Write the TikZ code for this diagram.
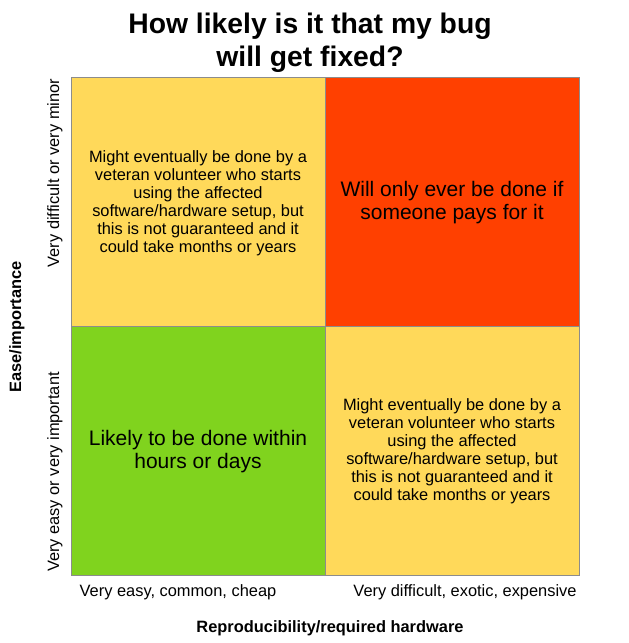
\documentclass[tikz,border=0pt]{standalone}
\usepackage{fontspec}
\setmainfont{Liberation Sans}
\usepackage{tikz}
\usetikzlibrary{positioning}

\definecolor{cellyellow}{HTML}{FFD95A}
\definecolor{cellred}{HTML}{FF4000}
\definecolor{cellgreen}{HTML}{80D31E}
\definecolor{cellline}{HTML}{8C8C8C}

\begin{document}
\begin{tikzpicture}[x=1pt,y=-1pt,line width=0.8pt,
  celltext/.style={align=center,font=\fontsize{16.4}{18}\selectfont},
  bigtext/.style={align=center,font=\fontsize{21}{23}\selectfont},
  axistext/.style={font=\fontsize{16.4}{18}\selectfont},
  axistitle/.style={font=\bfseries\fontsize{16.4}{18}\selectfont}]

\useasboundingbox (0,0) rectangle (629,643);

\fill[cellyellow] (71,77) rectangle (325,326); %top left
\fill[cellred] (325,77) rectangle (579,326); %top right
\fill[cellgreen] (71,326) rectangle (325,575); %bottom left
\fill[cellyellow] (325,326) rectangle (579,575); %bottom right

\draw[cellline] (71,77) rectangle (579,575);
\draw[cellline] (325,77) -- (325,575);
\draw[cellline] (71,326) -- (579,326);

\node[font=\bfseries\fontsize{28.3}{33}\selectfont,align=center] (title) at (310,43) {How likely is it that my bug\\will get fixed?};

\node[celltext] (tl) at (198,203) {Might eventually be done by a\\veteran volunteer who starts\\using the affected\\software/hardware setup, but\\this is not guaranteed and it\\could take months or years};
\node[bigtext] (tr) at (452,203) {Will only ever be done if\\someone pays for it};
\node[bigtext] (bl) at (198,452) {Likely to be done within\\hours or days};
\node[celltext] (br) at (452,451) {Might eventually be done by a\\veteran volunteer who starts\\using the affected\\software/hardware setup, but\\this is not guaranteed and it\\could take months or years};

\node[axistext,rotate=90] (ytop) at (55,173) {Very difficult or very minor};
\node[axistext,rotate=90] (ybot) at (55,472) {Very easy or very important};
\node[axistitle,rotate=90] (ytitle) at (17,327) {Ease/importance};

\node[axistext] (xleft) at (178,592) {Very easy, common, cheap};
\node[axistext] (xright) at (465,592) {Very difficult, exotic, expensive};
\node[axistitle] (xtitle) at (330,628) {Reproducibility/required hardware};

\end{tikzpicture}
\end{document}
